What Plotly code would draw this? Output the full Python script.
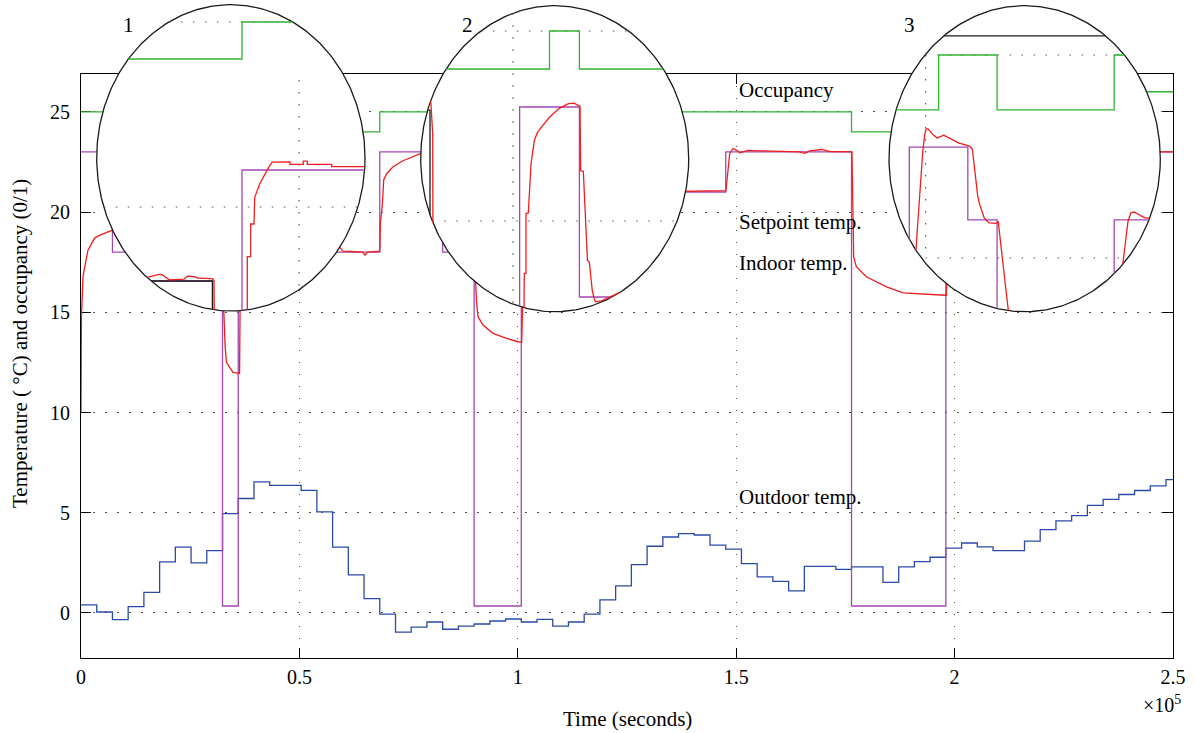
import numpy as np
import plotly.graph_objects as go

# ============================ DATA ============================
# --- main chart (time in seconds) ---
outdoor_time = [3600 * h for h in range(70)]
outdoor_temp = [0.40, 0.05, -0.33, 0.32, 1.03, 2.55, 3.29, 2.50, 3.11, 4.96,
                5.71, 6.54, 6.37, 6.37, 6.12, 5.04, 3.29, 1.90, 0.72, -0.06,
                -0.95, -0.70, -0.45, -0.81, -0.66, -0.55, -0.40, -0.30, -0.45, -0.32,
                -0.66, -0.45, -0.06, 0.65, 1.35, 2.41, 3.33, 3.79, 3.96, 3.89,
                3.39, 3.19, 2.46, 1.80, 1.58, 1.10, 2.33, 2.33, 2.18, 2.30,
                2.30, 1.53, 2.30, 2.56, 2.78, 3.24, 3.49, 3.30, 3.11, 3.11,
                3.58, 4.16, 4.59, 4.86, 5.37, 5.67, 5.91, 6.11, 6.34, 6.65]
time_end = 250000

setpoint_time = [0, 7200, 32400, 36000, 57600, 68400, 82800, 90000, 100800,
                 108000, 126000, 147600, 176400, 198000]
setpoint_temp = [23, 18, 0.35, 21, 18, 23, 18, 0.35, 23, 18, 21, 23, 0.35, 23]

occupancy_time = [0, 7200, 36000, 57600, 68400, 82800, 104400, 108000, 126000,
                  176400, 198000]
occupancy_level = [25, 24, 25, 24, 25, 24, 25, 24, 25, 24, 26]

indoor_time = [0, 100, 460, 1600, 3100, 4300, 7260, 9000, 12000, 16000,
               32400, 32600, 32700, 32800, 33000, 33300, 34800, 36300, 36500, 37200,
               38500, 40000, 57600, 58000, 59000, 60000, 64500, 65000, 65600, 68400,
               68540, 69000, 69300, 69920, 71430, 73720, 76010, 77540, 80000, 82800,
               83500, 85000, 87000, 90000, 90360, 90520, 90890, 92030, 94320, 97390,
               100040, 100900, 101500, 103000, 108000, 109000, 111000, 126000, 127000, 129000,
               147650, 148122, 148511, 149267, 150045, 150801, 152701, 155380, 162248, 164537,
               165682, 166827, 169505, 171405, 176500, 176600, 176900, 177500, 179800, 184400,
               188200, 197800, 198100, 198800, 199700, 200300, 202000, 250000]
indoor_temp = [10.0, 14.8, 16.8, 18.1, 18.7, 18.85, 19.1, 18.6, 18.2, 18.05,
               18.05, 18.0, 15.0, 14.3, 13.3, 12.5, 12.0, 11.95, 17.5, 19.5,
               20.8, 21.2, 21.1, 19.5, 18.3, 18.05, 18.0, 17.85, 18.0, 18.05,
               19.43, 20.4, 21.6, 21.9, 22.26, 22.56, 22.76, 22.9, 23.0, 23.0,
               19.5, 18.3, 18.05, 18.0, 16.44, 15.6, 14.78, 14.36, 13.95, 13.7,
               13.53, 13.5, 19.0, 22.0, 23.0, 19.5, 18.1, 18.0, 20.5, 21.0,
               21.07, 22.24, 22.92, 23.17, 23.09, 22.96, 23.08, 23.05, 23.0, 23.0,
               22.93, 23.05, 23.12, 23.02, 23.0, 21.6, 17.76, 17.27, 16.77, 16.27,
               15.97, 15.85, 15.85, 20.5, 22.8, 23.2, 23.0, 23.0]

x_tick_vals = [0, 50000, 100000, 150000, 200000, 250000]
x_tick_text = ["0", "0.5", "1", "1.5", "2", "2.5"]
y_tick_vals = [0, 5, 10, 15, 20, 25]
y_tick_text = ["0", "5", "10", "15", "20", "25"]

series_labels = ["Occupancy", "Setpoint temp.", "Indoor temp.", "Outdoor temp."]
label_time = [150000, 150000, 150000, 150000]
label_level = [26.08, 19.5, 17.45, 5.77]
inset_names = ["1", "2", "3"]

# --- magnified detail 1 ---
in1_occ_time = [18000, 36000]
in1_occ_level = [24, 25]
in1_sp_time = [18000, 32400, 36000]
in1_sp_temp = [18, 0.35, 21]
in1_ref_time = [18000, 32400]
in1_ref_temp = [18.0, 0.35]
in1_in_time = [18000, 24378, 25598, 26207, 27012, 28841, 29256, 30268, 30476, 32305,
               32585, 32700, 35000, 36646, 36646, 37061, 37061, 37463, 37463, 37585,
               37988, 38598, 39622, 41854, 41854, 43476, 43476, 43963, 43963, 46939,
               46939, 52000]
in1_in_temp = [18.10, 18.10, 18.18, 18.18, 18.03, 18.03, 18.13, 18.13, 18.08, 18.08,
               18.03, 15.0, 12.0, 12.0, 18.66, 18.66, 19.54, 19.54, 20.19, 20.28,
               20.55, 20.82, 21.21, 21.22, 21.15, 21.15, 21.24, 21.24, 21.15, 21.15,
               21.09, 21.09]
in1_grid_levels = [20, 25]
in1_grid_times = [42950]

# --- magnified detail 2 ---
in2_occ_time = [88000, 104400, 108000]
in2_occ_level = [24, 25, 24]
in2_sp_time = [88000, 100800, 108000]
in2_sp_temp = [0.35, 23, 18]
in2_ref_time = [88000, 90000]
in2_ref_temp = [22.92, 0.35]
in2_in_time = [88000, 90100, 90325, 90400, 100800, 101325, 101361, 101566, 101566, 101843,
               102048, 102446, 102855, 104060, 105265, 106470, 107265, 108072, 108157, 108470,
               108675, 108880, 109193, 109361, 109602, 109880, 110482, 112494, 116000]
in2_in_temp = [23.13, 23.13, 22.5, 15.0, 13.5, 17.74, 18.62, 18.62, 20.2, 20.2,
               21.26, 22.04, 22.31, 22.66, 22.92, 23.08, 23.11, 23.03, 21.32, 21.32,
               20.38, 18.97, 18.93, 18.45, 18.10, 17.88, 17.88, 18.10, 18.3]
in2_grid_levels = [20, 25]
in2_grid_times = [100000]

# --- magnified detail 3 ---
in3_ref_time = [195000, 229500]
in3_ref_temp = [25.47, 25.47]
in3_occ_time = [195000, 201600, 208800, 223200]
in3_occ_level = [23.65, 25, 23.65, 25]
in3_sp_time = [195000, 198000, 205200, 208800, 223200]
in3_sp_temp = [0.35, 22.73, 20.94, 0.35, 20.94]
in3_in_time = [195000, 198000, 198824, 199316, 199722, 200017, 200263, 200546, 201370, 202182,
               203830, 205257, 205749, 206081, 206487, 207102, 207717, 208541, 208947, 209365,
               210177, 210630, 212000, 223200, 224248, 224740, 225146, 225552, 226167, 226782,
               227397, 229500]
in3_in_temp = [15.85, 15.85, 20.24, 21.59, 22.83, 23.17, 23.19, 23.11, 22.95, 23.03,
               22.84, 22.78, 22.70, 22.0, 21.43, 21.02, 20.87, 20.84, 20.89, 20.12,
               18.72, 17.5, 15.0, 15.0, 19.83, 20.77, 21.10, 21.14, 21.09, 21.00,
               20.98, 20.95]
in3_grid_levels = [20, 25]
in3_grid_times = [200000]

# ============================ STYLE / LAYOUT ============================
GREEN = "#2fb32f"
PURPLE = "#a446b2"
RED = "#f21d1d"
BLUE = "#2a4aa8"
BLACK = "#1a1a1a"
GRID_COLOR = "#555555"
GRID_DASH = "1.5px,10.5px"
FONT = "Liberation Serif"
LW = 1.3

PLOT_L, PLOT_R, PLOT_T, PLOT_B = 81, 1173, 0, 658
PW, PH = PLOT_R - PLOT_L, PLOT_B - PLOT_T
MAIN_TOP_PX = 73.7


def fx(px):
    return (px - PLOT_L) / PW


def fy(py):
    return (PLOT_B - py) / PH


# inset geometry: bounding box of the circle in px (l, r, t, b) and
# the px<->data relation used for the magnified view
INSET_GEOM = [
    dict(box=(96.7, 365.0, 4.7, 311.0), xmap=(242.0, 36000, 0.0082), ymap=(22.0, 25.0, 37.0),
         h_from=None, v_span=(None, 23.43), label_px=(128, 25)),
    dict(box=(420.7, 688.7, 5.7, 311.7), xmap=(513.0, 100000, 0.0083), ymap=(31.0, 25.0, 38.0),
         h_from=None, v_span=(None, None), label_px=(467, 25)),
    dict(box=(889.0, 1160.3, 5.7, 311.7), xmap=(909.3, 198000, 0.00813), ymap=(55.0, 25.0, 40.6),
         h_from=200000, v_span=(20, 25), label_px=(909, 25)),
]
PAD = 2.0


def step_vertices(ts, vs, t_end):
    X, Y = [ts[0]], [vs[0]]
    for i in range(1, len(ts)):
        X += [ts[i], ts[i]]
        Y += [vs[i - 1], vs[i]]
    X.append(t_end)
    Y.append(vs[-1])
    return X, Y


def clip_polyline(xs, ys, ell, density=300):
    cx, cy, rx, ry = ell

    def f(x, y):
        return ((x - cx) / rx) ** 2 + ((y - cy) / ry) ** 2 - 1.0

    X = np.asarray(xs, float)
    Y = np.asarray(ys, float)
    dx, dy = [], []
    for i in range(len(X) - 1):
        L = np.hypot((X[i + 1] - X[i]) / rx, (Y[i + 1] - Y[i]) / ry)
        n = max(1, int(np.ceil(L * density)))
        s = np.linspace(0, 1, n + 1)[:-1]
        dx.extend(X[i] + s * (X[i + 1] - X[i]))
        dy.extend(Y[i] + s * (Y[i + 1] - Y[i]))
    dx.append(X[-1])
    dy.append(Y[-1])
    ox, oy = [], []
    prev = None
    for x, y in zip(dx, dy):
        inside = f(x, y) <= 0
        if prev is None:
            if inside:
                ox.append(x)
                oy.append(y)
        else:
            px_, py_, pin = prev
            if inside and pin:
                ox.append(x)
                oy.append(y)
            elif inside != pin:
                a, b = 0.0, 1.0
                for _ in range(40):
                    m = 0.5 * (a + b)
                    if (f(px_ + m * (x - px_), py_ + m * (y - py_)) <= 0) == pin:
                        a = m
                    else:
                        b = m
                m = 0.5 * (a + b)
                xb, yb = px_ + m * (x - px_), py_ + m * (y - py_)
                if pin:
                    ox += [xb, None]
                    oy += [yb, None]
                else:
                    ox += [None, xb, x]
                    oy += [None, yb, y]
        prev = (x, y, inside)
    return ox, oy


fig = go.Figure()

# ---------------- main traces ----------------
fig.add_trace(go.Scatter(x=outdoor_time + [time_end], y=outdoor_temp + [outdoor_temp[-1]],
                         mode="lines", line=dict(color=BLUE, width=LW, shape="hv"),
                         name="Outdoor temp.", showlegend=False, hoverinfo="skip"))
fig.add_trace(go.Scatter(x=occupancy_time + [time_end], y=occupancy_level + [occupancy_level[-1]],
                         mode="lines", line=dict(color=GREEN, width=LW, shape="hv"),
                         name="Occupancy", showlegend=False, hoverinfo="skip"))
fig.add_trace(go.Scatter(x=setpoint_time + [time_end], y=setpoint_temp + [setpoint_temp[-1]],
                         mode="lines", line=dict(color=PURPLE, width=LW, shape="hv"),
                         name="Setpoint temp.", showlegend=False, hoverinfo="skip"))
fig.add_trace(go.Scatter(x=indoor_time, y=indoor_temp, mode="lines",
                         line=dict(color=RED, width=LW), name="Indoor temp.",
                         showlegend=False, hoverinfo="skip", cliponaxis=False))

# ---------------- insets ----------------
inset_series = [
    dict(occ=(in1_occ_time, in1_occ_level), sp=(in1_sp_time, in1_sp_temp),
         ref=(in1_ref_time, in1_ref_temp, True), ind=(in1_in_time, in1_in_temp),
         gl=in1_grid_levels, gt=in1_grid_times),
    dict(occ=(in2_occ_time, in2_occ_level), sp=(in2_sp_time, in2_sp_temp),
         ref=(in2_ref_time, in2_ref_temp, True), ind=(in2_in_time, in2_in_temp),
         gl=in2_grid_levels, gt=in2_grid_times),
    dict(occ=(in3_occ_time, in3_occ_level), sp=(in3_sp_time, in3_sp_temp),
         ref=(in3_ref_time, in3_ref_temp, False), ind=(in3_in_time, in3_in_temp),
         gl=in3_grid_levels, gt=in3_grid_times),
]

layout_axes = {}
annotations = []
for i, (g, s) in enumerate(zip(INSET_GEOM, inset_series)):
    n = i + 2
    xa, ya = f"x{n}", f"y{n}"
    l, r, t, b = g["box"]
    px0, t0, k = g["xmap"]
    py0, v0, m = g["ymap"]

    def T(px):
        return t0 + (px - px0) / k

    def V(py):
        return v0 - (py - py0) / m

    cx, cy = T(0.5 * (l + r)), V(0.5 * (t + b))
    rx, ry = 0.5 * (r - l) / k, 0.5 * (b - t) / m
    ell = (cx, cy, rx, ry)
    xr = [T(l - PAD), T(r + PAD)]
    yr = [V(b + PAD), V(t - PAD)]
    layout_axes[f"xaxis{n}"] = dict(domain=[fx(l - PAD), fx(r + PAD)], range=xr, visible=False,
                                    anchor=ya, fixedrange=True)
    layout_axes[f"yaxis{n}"] = dict(domain=[fy(b + PAD), fy(t - PAD)], range=yr, visible=False,
                                    anchor=xa, fixedrange=True)

    th = np.linspace(0, 2 * np.pi, 361)
    fig.add_trace(go.Scatter(x=cx + rx * np.cos(th), y=cy + ry * np.sin(th), xaxis=xa, yaxis=ya,
                             mode="lines", fill="toself", fillcolor="white",
                             line=dict(color=BLACK, width=1.3), showlegend=False, hoverinfo="skip"))
    # grid
    gx, gy = [], []
    for lev in s["gl"]:
        x0 = g["h_from"] if g["h_from"] is not None else xr[0]
        a, bb = clip_polyline([x0, xr[1]], [lev, lev], ell)
        gx += a + [None]
        gy += bb + [None]
    for tt in s["gt"]:
        lo, hi = g["v_span"]
        lo = yr[0] if lo is None else lo
        hi = yr[1] if hi is None else hi
        a, bb = clip_polyline([tt, tt], [hi, lo], ell)
        gx += a + [None]
        gy += bb + [None]
    fig.add_trace(go.Scatter(x=gx, y=gy, xaxis=xa, yaxis=ya, mode="lines",
                             line=dict(color=GRID_COLOR, width=1.2, dash=GRID_DASH),
                             showlegend=False, hoverinfo="skip"))
    # series
    ox, oy = clip_polyline(*step_vertices(*s["occ"], xr[1]), ell)
    fig.add_trace(go.Scatter(x=ox, y=oy, xaxis=xa, yaxis=ya, mode="lines",
                             line=dict(color=GREEN, width=LW), showlegend=False, hoverinfo="skip"))
    ox, oy = clip_polyline(*step_vertices(*s["sp"], xr[1]), ell)
    fig.add_trace(go.Scatter(x=ox, y=oy, xaxis=xa, yaxis=ya, mode="lines",
                             line=dict(color=PURPLE, width=LW), showlegend=False, hoverinfo="skip"))
    rt, rv, is_step = s["ref"]
    if is_step:
        ox, oy = clip_polyline(*step_vertices(rt, rv, rt[-1]), ell)
    else:
        ox, oy = clip_polyline(rt, rv, ell)
    fig.add_trace(go.Scatter(x=ox, y=oy, xaxis=xa, yaxis=ya, mode="lines",
                             line=dict(color=BLACK, width=LW), showlegend=False, hoverinfo="skip"))
    ox, oy = clip_polyline(*s["ind"], ell)
    fig.add_trace(go.Scatter(x=ox, y=oy, xaxis=xa, yaxis=ya, mode="lines",
                             line=dict(color=RED, width=LW), showlegend=False, hoverinfo="skip"))
    lpx, lpy = g["label_px"]
    annotations.append(dict(text=inset_names[i], xref="paper", yref="paper", x=fx(lpx), y=fy(lpy),
                            showarrow=False, xanchor="center", yanchor="middle",
                            font=dict(family=FONT, size=21, color="black")))

# series labels
for txt, tx, ty in zip(series_labels, label_time, label_level):
    annotations.append(dict(text=txt, xref="x", yref="y", x=tx, y=ty, showarrow=False,
                            xanchor="left", yanchor="middle", xshift=1,
                            font=dict(family=FONT, size=21, color="black")))

annotations += [
    dict(text="Time (seconds)", xref="paper", yref="paper", x=0.5, y=fy(719), showarrow=False,
         xanchor="center", yanchor="middle", font=dict(family=FONT, size=21, color="black")),
    dict(text="Temperature ( °C) and occupancy (0/1)", xref="paper", yref="paper", x=fx(20),
         y=fy(344), showarrow=False, textangle=-90, xanchor="center", yanchor="middle",
         font=dict(family=FONT, size=21, color="black")),
    dict(text="×10<sup>5</sup>", xref="paper", yref="paper", x=fx(1183), y=fy(704), showarrow=False,
         xanchor="right", yanchor="middle", font=dict(family=FONT, size=20, color="black")),
]

axis_common = dict(showline=True, linecolor="black", linewidth=1, mirror="ticks",
                   ticks="inside", ticklen=10, tickwidth=1, tickcolor="black",
                   showgrid=True, gridcolor=GRID_COLOR, gridwidth=1.2, griddash=GRID_DASH,
                   zeroline=False, tickfont=dict(family=FONT, size=20, color="black"),
                   layer="below traces", fixedrange=True)

fig.update_layout(
    width=1195, height=733,
    margin=dict(l=PLOT_L, r=1195 - PLOT_R, t=PLOT_T, b=733 - PLOT_B, pad=0),
    paper_bgcolor="white", plot_bgcolor="rgba(0,0,0,0)",
    showlegend=False,
    xaxis=dict(domain=[0, 1], range=[0, time_end], tickvals=x_tick_vals, ticktext=x_tick_text,
               anchor="y", ticklabelstandoff=1, **axis_common),
    yaxis=dict(domain=[0, fy(MAIN_TOP_PX)], range=[-2.245, 26.9], tickvals=y_tick_vals,
               ticktext=y_tick_text, anchor="x", ticklabelstandoff=6, **axis_common),
    annotations=annotations,
    **layout_axes,
)

fig.write_html("out.html", config={"displayModeBar": False},
               post_script="document.body.style.margin='0';document.body.style.overflow='hidden';")
